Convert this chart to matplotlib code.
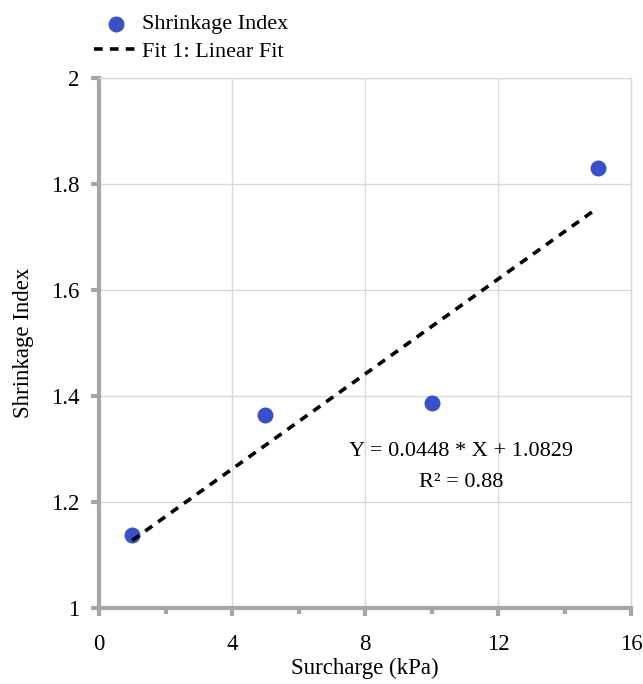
import matplotlib
matplotlib.use("Agg")
import matplotlib.pyplot as plt
import numpy as np

surcharge = [1, 5, 10, 15]
shrinkage = [1.138, 1.364, 1.387, 1.831]
slope, intercept = 0.0448, 1.0829
fit_x = [1, 15]
x_ticks = [0, 4, 8, 12, 16]
x_minor = [2, 6, 10, 14]
y_ticks = [1, 1.2, 1.4, 1.6, 1.8, 2]
y_labels = ['1', '1.2', '1.4', '1.6', '1.8', '2']

plt.rcParams['font.family'] = ['Liberation Serif', 'DejaVu Serif']

fig = plt.figure(figsize=(6.43, 6.84), dpi=100)
ax = fig.add_axes([99/643, 1-608/684, (631-99)/643, (608-78)/684])

fx = np.array(fit_x, dtype=float)
ax.scatter(surcharge, shrinkage, s=110, color='#3a50c8', zorder=3, label='Shrinkage Index')
ax.plot(fx, slope*fx + intercept, color='black', lw=2.6, ls=(0, (2.4, 2.0)), zorder=4,
        label='Fit 1: Linear Fit')

ax.set_xlim(0, 16)
ax.set_ylim(1, 2)
ax.set_xticks(x_ticks)
ax.set_xticklabels([str(v) for v in x_ticks])
ax.set_xticks(x_minor, minor=True)
ax.set_yticks(y_ticks)
ax.set_yticklabels(y_labels)
ax.grid(True, which='major', color='#d9d9d9', lw=1)
ax.set_axisbelow(True)

for s in ['left', 'bottom']:
    ax.spines[s].set_color('#a6a6a6')
    ax.spines[s].set_linewidth(3)
for s in ['top', 'right']:
    ax.spines[s].set_color('#d9d9d9')
    ax.spines[s].set_linewidth(1)

ax.tick_params(which='major', direction='out', length=6, width=3, color='#a6a6a6',
               labelsize=16.5, pad=8)
ax.tick_params(axis='x', which='major', pad=13)
ax.tick_params(which='minor', direction='out', length=4, width=3, color='#a6a6a6')

ax.set_xlabel('Surcharge (kPa)', fontsize=16.5, labelpad=2)
ax.set_ylabel('Shrinkage Index', fontsize=16.5, labelpad=12)

ax.text(0.681, 0.266, 'Y = 0.0448 * X + 1.0829\nR² = 0.88', transform=ax.transAxes,
        fontsize=16, ha='center', va='center', linespacing=1.85)

leg = fig.legend(loc='upper left', bbox_to_anchor=(85/643, 1-5/684), frameon=False,
                 fontsize=16, handlelength=2.0, handletextpad=0.15, labelspacing=0.32,
                 borderaxespad=0)

fig.savefig('out.png', dpi=100)
